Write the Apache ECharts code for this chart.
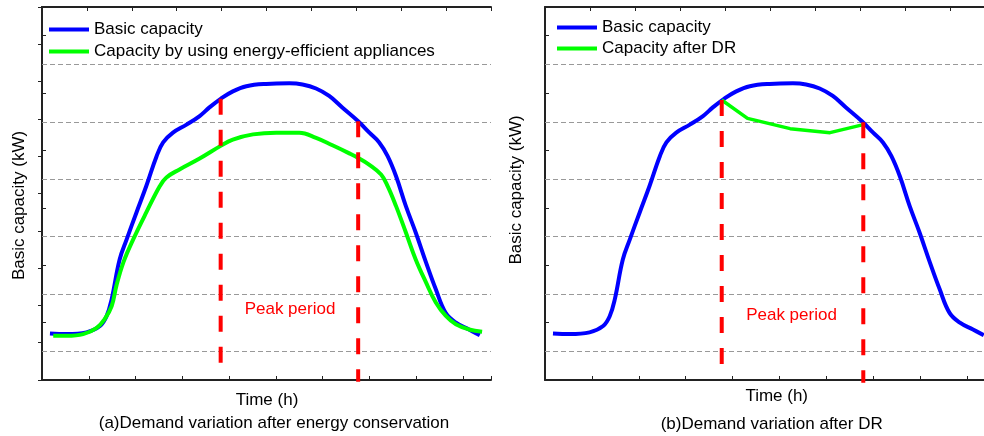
<!DOCTYPE html>
<html>
<head>
<meta charset="utf-8">
<title>Demand variation</title>
<script src="https://cdn.jsdelivr.net/npm/echarts@6/dist/echarts.min.js"></script>
<style>
	html, body { margin: 0; padding: 0; background: #fff; }
	#chart { width: 984px; height: 436px; }
</style>
</head>
<body>
<div id="chart"></div>
<script>
	// x: time in quarter hours (0 - 96), y: capacity in axis units
	const basicX = [1.7, 5.3, 9.5, 12.4, 13.8, 14.9, 16.6, 18.1, 20.2, 22.3, 24.5, 25.9, 28.0, 30.9, 33.7, 35.8, 38.2, 40.8, 43.7, 47.9, 52.9, 55.7, 58.6, 61.4, 64.2, 67.6, 70.0, 72.1, 73.9, 75.7, 77.8, 79.9, 82.1, 84.2, 86.3, 88.5, 91.3, 93.6];
	const basicY = [1.31, 1.30, 1.33, 1.44, 1.61, 1.91, 2.60, 2.95, 3.42, 3.88, 4.40, 4.64, 4.81, 4.95, 5.10, 5.25, 5.40, 5.53, 5.62, 5.66, 5.67, 5.65, 5.58, 5.45, 5.25, 5.01, 4.81, 4.64, 4.40, 4.05, 3.53, 3.07, 2.55, 2.08, 1.67, 1.50, 1.38, 1.28];

	// (a) with energy-efficient appliances
	const savingX = [2.4, 5.3, 8.8, 11.7, 13.4, 14.9, 15.9, 17.4, 19.5, 22.3, 25.2, 26.6, 29.4, 33.7, 38.2, 40.8, 45.1, 50.1, 55.0, 58.6, 62.1, 65.7, 67.6, 70.0, 72.5, 73.9, 75.7, 77.8, 79.9, 82.1, 84.2, 86.3, 88.5, 91.3, 94.1];
	const savingY = [1.27, 1.27, 1.30, 1.41, 1.56, 1.79, 2.14, 2.55, 2.95, 3.42, 3.88, 4.03, 4.17, 4.36, 4.58, 4.69, 4.78, 4.81, 4.81, 4.72, 4.59, 4.45, 4.37, 4.25, 4.08, 3.88, 3.53, 3.07, 2.60, 2.20, 1.85, 1.62, 1.47, 1.38, 1.34];

	// (b) after DR
	const drX = [37.7, 43.2, 52.3, 60.8, 67.9];
	const drY = [5.38, 5.06, 4.88, 4.81, 4.95];

	// peak period borders: [x, top, bottom]
	const peakA = [[38.2, 5.40, 0.77], [67.6, 5.01, 0.47]];
	const peakB = [[37.7, 5.38, 0.74], [67.9, 4.99, 0.45]];

	const gridValues = [1, 2, 3, 4, 5, 6];

	const font = "'Liberation Sans', Arial, sans-serif";
	const zip = (xs, ys) => xs.map((x, i) => [x, ys[i]]);

	const chart = echarts.init(document.getElementById('chart'));

	// panel (b) runs off the right edge of the picture, so its axes stop early
	function boxAxes(gridIndex, xMax, topMax, showRight) {
		const line = { lineStyle: { color: '#222', width: 2 } };
		const tick = { inside: true, length: 4, lineStyle: { color: '#222', width: 1 } };
		const common = {
			gridIndex: gridIndex,
			type: 'value',
			axisLine: line,
			axisTick: tick,
			axisLabel: { show: false },
			splitLine: { show: false }
		};
		return {
			x: [
				Object.assign({ position: 'bottom', min: 0, max: xMax, interval: 10 }, common),
				Object.assign({ position: 'top', min: 0, max: topMax, interval: 1 }, common)
			],
			y: [
				Object.assign({ position: 'left', min: 0.5, max: 7, interval: 0.5 }, common),
				Object.assign({ position: 'right', min: 0, max: 10, interval: 1, show: showRight }, common)
			]
		};
	}

	const axesA = boxAxes(0, 96, 10, true);
	const axesB = boxAxes(1, 93.65, 9.76, false);

	function curve(name, data, axisIndex, color, width, smooth) {
		return {
			name: name,
			type: 'line',
			xAxisIndex: axisIndex,
			yAxisIndex: axisIndex,
			data: data,
			symbol: 'none',
			smooth: smooth,
			lineStyle: { color: color, width: width },
			itemStyle: { color: color },
			z: 3
		};
	}

	// dashed gray gridlines, hung on an empty series
	function gridSeries(axisIndex) {
		return {
			type: 'line',
			xAxisIndex: axisIndex,
			yAxisIndex: axisIndex,
			data: [],
			silent: true,
			markLine: {
				silent: true,
				symbol: 'none',
				z: 1,
				label: { show: false },
				lineStyle: { color: '#999', width: 1, type: [5, 3] },
				data: gridValues.map(v => ({ yAxis: v }))
			}
		};
	}

	function peakSeries(peaks, axisIndex) {
		return peaks.map(p => ({
			type: 'line',
			xAxisIndex: axisIndex,
			yAxisIndex: axisIndex,
			data: [[p[0], p[1]], [p[0], p[2]]],
			symbol: 'none',
			clip: false,
			silent: true,
			lineStyle: { color: '#ff0000', width: 4, type: [16, 15] },
			z: 4
		}));
	}

	const textStyle = { fontSize: 17, fontFamily: font, color: '#000' };

	function label(text, x, y, color, rotate) {
		return {
			type: 'text',
			x: x,
			y: y,
			rotation: rotate ? Math.PI / 2 : 0,
			style: {
				text: text,
				fill: color || '#000',
				font: '17px ' + font,
				align: 'center',
				verticalAlign: 'middle'
			}
		};
	}

	const legendBase = {
		orient: 'vertical',
		padding: 0,
		icon: 'rect',
		itemWidth: 40,
		itemHeight: 4,
		selectedMode: false,
		textStyle: textStyle
	};

	const option = {
		animation: false,
		backgroundColor: '#fff',
		grid: [
			{ left: 42, top: 7, width: 449, height: 373 },
			{ left: 545, top: 7, right: 0, height: 373 }
		],
		xAxis: axesA.x.concat(axesB.x),
		yAxis: axesA.y.concat(axesB.y),
		legend: [
			Object.assign({
				left: 49,
				top: 21,
				itemGap: 5,
				data: ['Basic capacity', 'Capacity by using energy-efficient appliances']
			}, legendBase),
			Object.assign({
				left: 557,
				top: 19,
				itemGap: 4,
				data: ['Basic capacity', 'Capacity after DR']
			}, legendBase)
		],
		graphic: [
			label('Basic capacity (kW)', 19.5, 205.5, null, true),
			label('Basic capacity (kW)', 516.7, 190, null, true),
			label('Time (h)', 267, 400.5),
			label('Time (h)', 776.7, 396.5),
			label('(a)Demand variation after energy conservation', 274, 423.5),
			label('(b)Demand variation after DR', 771.7, 424.5),
			label('Peak period', 290, 309, '#ff0000'),
			label('Peak period', 791.5, 315, '#ff0000')
		],
		series: [
			gridSeries(0),
			gridSeries(2),
			curve('Basic capacity', zip(basicX, basicY), 0, '#0000ff', 4, 0.4),
			curve('Capacity by using energy-efficient appliances', zip(savingX, savingY), 0, '#00ff00', 4, 0.4),
			curve('Basic capacity', zip(basicX, basicY), 2, '#0000ff', 4, 0.4),
			curve('Capacity after DR', zip(drX, drY), 2, '#00ff00', 3.5, false)
		].concat(peakSeries(peakA, 0), peakSeries(peakB, 2))
	};

	chart.setOption(option);
</script>
</body>
</html>
